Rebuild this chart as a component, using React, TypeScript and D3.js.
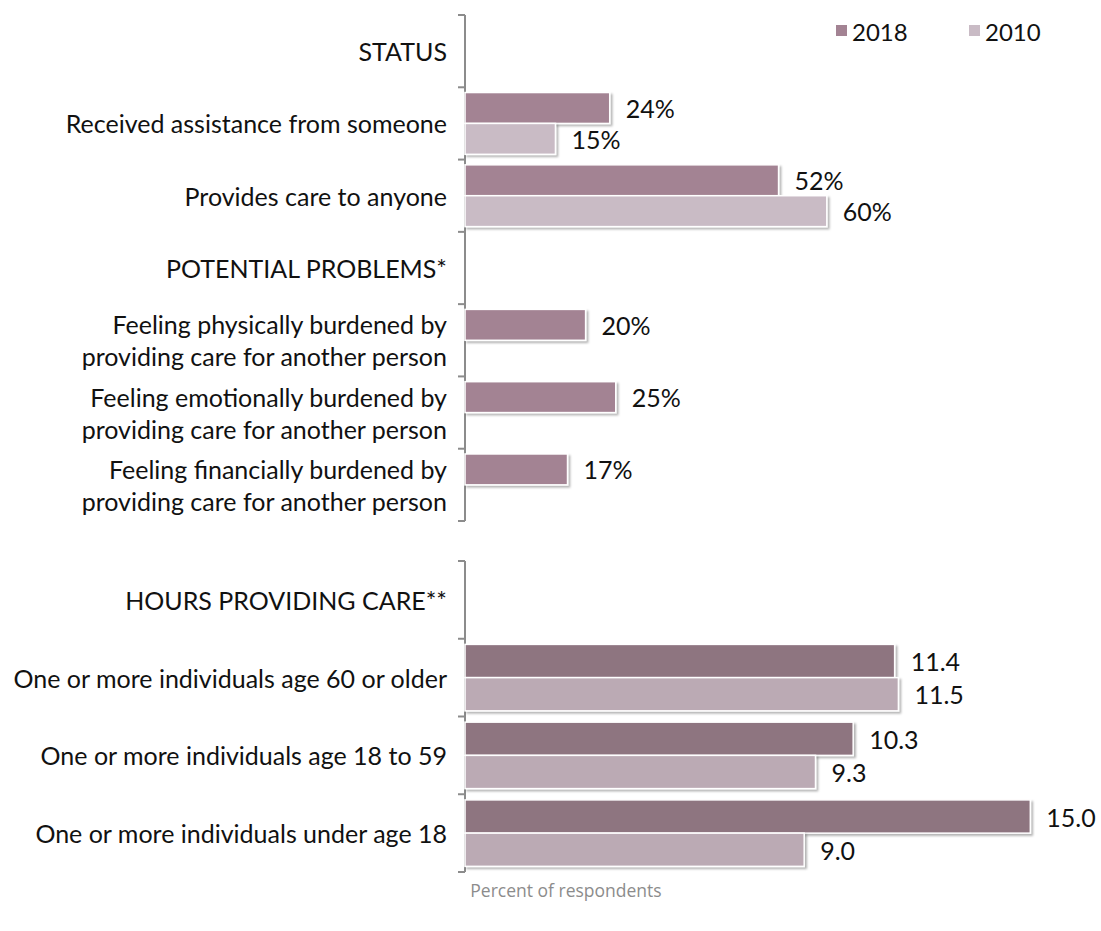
import React from "react";
import * as d3 from "d3";

const topCategories = [
  "STATUS",
  "Received assistance from someone",
  "Provides care to anyone",
  "POTENTIAL PROBLEMS*",
  "Feeling physically burdened by|providing care for another person",
  "Feeling emotionally burdened by|providing care for another person",
  "Feeling financially burdened by|providing care for another person",
];
const top2018: (number | null)[] = [null, 24, 52, null, 20, 25, 17];
const top2010: (number | null)[] = [null, 15, 60, null, null, null, null];

const bottomCategories = [
  "HOURS PROVIDING CARE**",
  "One or more individuals age 60 or older",
  "One or more individuals age 18 to 59",
  "One or more individuals under age 18",
];
const bottom2018: (number | null)[] = [null, 11.4, 10.3, 15.0];
const bottom2010: (number | null)[] = [null, 11.5, 9.3, 9.0];

const seriesNames = ["2018", "2010"];
const xAxisTitle = "Percent of respondents";

const FONT = "Lato, 'Gill Sans', sans-serif";

type PanelProps = {
  cats: string[];
  s1: (number | null)[];
  s2: (number | null)[];
  yRange: [number, number];
  xDomain: [number, number];
  colors: [string, string];
  fmt: (v: number) => string;
};

const AX = 465;
const XW = 603;

function Panel({ cats, s1, s2, yRange, xDomain, colors, fmt }: PanelProps) {
  const y = d3.scaleBand<string>().domain(cats).range(yRange).padding(0);
  const x = d3.scaleLinear().domain(xDomain).range([AX, AX + XW]);
  const inner = d3
    .scaleBand<string>()
    .domain(seriesNames)
    .range([0, y.bandwidth()])
    .paddingInner(0)
    .paddingOuter(0.17);
  const ticks = [...cats.map((c) => y(c) as number), yRange[1]];
  const series = [s1, s2];
  return (
    <g>
      <line x1={AX} x2={AX} y1={yRange[0]} y2={yRange[1]} stroke="#8c8c8c" strokeWidth={2} />
      {ticks.map((t, i) => (
        <line key={i} x1={AX - 7} x2={AX} y1={t} y2={t} stroke="#8c8c8c" strokeWidth={2} />
      ))}
      {cats.map((c, i) => {
        const lines = c.split("|");
        const cy = (y(c) as number) + y.bandwidth() / 2;
        const lh = 32;
        return (
          <text
            key={c}
            x={447}
            textAnchor="end"
            fontFamily={FONT}
            fontSize={25}
            fill="#111"
          >
            {lines.map((l, j) => (
              <tspan
                key={j}
                x={447}
                y={cy + (j - (lines.length - 1) / 2) * lh}
                dominantBaseline="central"
              >
                {l}
              </tspan>
            ))}
          </text>
        );
      })}
      {series.map((s, si) =>
        cats.map((c, i) => {
          const v = s[i];
          if (v == null) return null;
          const by = (y(c) as number) + (inner(seriesNames[si]) as number);
          const bh = inner.bandwidth();
          const xe = x(v);
          return (
            <g key={`${si}-${i}`}>
              <rect
                x={AX}
                y={by}
                width={xe - AX}
                height={bh}
                fill={colors[si]}
                stroke="#ffffff"
                strokeWidth={1.5}
                filter="url(#shadow)"
              />
              <text
                x={xe + 16}
                y={by + bh / 2}
                dominantBaseline="central"
                fontFamily={FONT}
                fontSize={25}
                fill="#111"
              >
                {fmt(v)}
              </text>
            </g>
          );
        })
      )}
    </g>
  );
}

export default function App() {
  const legendColors = ["#a38393", "#c9bbc5"];
  const legendX = [836, 969];
  return (
    <svg
      width={1101}
      height={931}
      style={{ position: "absolute", left: 0, top: 0, background: "#fff" }}
    >
      <defs>
        <filter id="shadow" x="-5%" y="-20%" width="115%" height="150%">
          <feDropShadow dx={2} dy={2} stdDeviation={1.2} floodColor="#000" floodOpacity={0.3} />
        </filter>
      </defs>
      <rect width={1101} height={931} fill="#fff" />
      <Panel
        cats={topCategories}
        s1={top2018}
        s2={top2010}
        yRange={[15, 521]}
        xDomain={[0, 100]}
        colors={["#a38393", "#c9bbc5"]}
        fmt={(v) => `${d3.format("d")(v)}%`}
      />
      <Panel
        cats={bottomCategories}
        s1={bottom2018}
        s2={bottom2010}
        yRange={[561, 872]}
        xDomain={[0, 16]}
        colors={["#8e7480", "#bbaab4"]}
        fmt={(v) => d3.format(".1f")(v)}
      />
      {seriesNames.map((n, i) => (
        <g key={n}>
          <rect x={legendX[i]} y={25} width={11} height={11} fill={legendColors[i]} />
          <text
            x={legendX[i] + 16}
            y={31}
            dominantBaseline="central"
            fontFamily={FONT}
            fontSize={24}
            fill="#111"
          >
            {n}
          </text>
        </g>
      ))}
      <text
        x={566}
        y={890}
        textAnchor="middle"
        dominantBaseline="central"
        fontFamily="'Open Sans', sans-serif"
        fontSize={17.5}
        fill="#8c8c8c"
      >
        {xAxisTitle}
      </text>
    </svg>
  );
}
